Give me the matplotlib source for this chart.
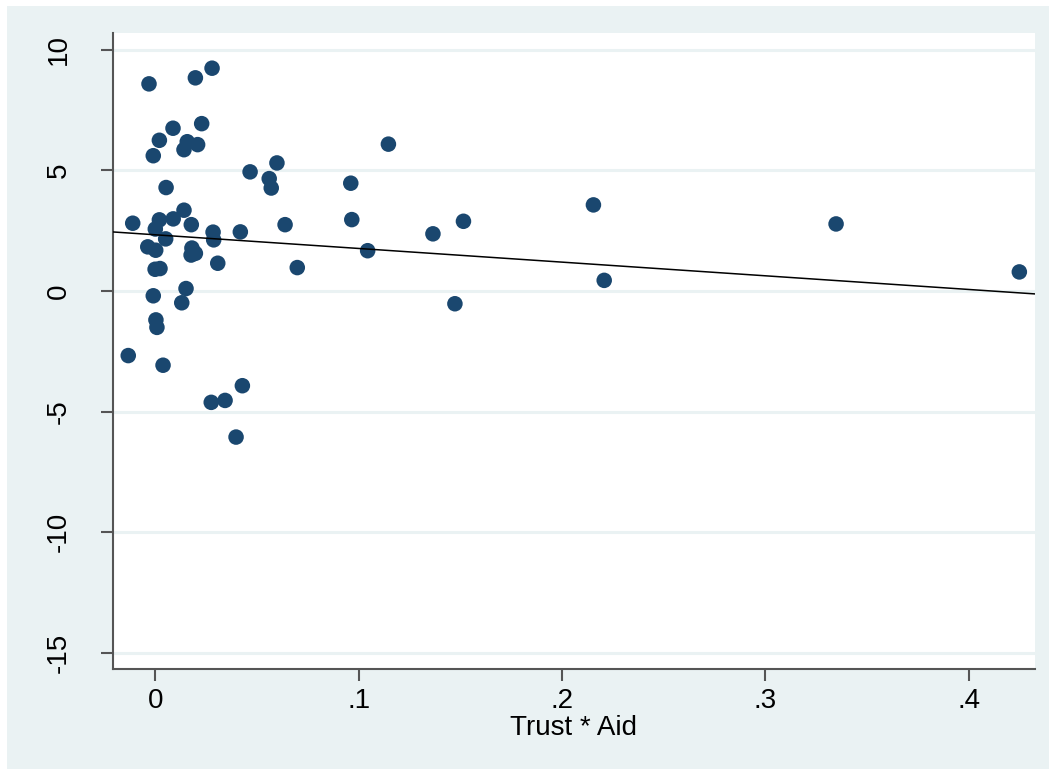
import numpy as np
import matplotlib.pyplot as plt
from matplotlib.patches import Rectangle

# data
trust_aid = [-0.0031, 0.0197, 0.0279, 0.0228, 0.0087, 0.0020, 0.0157, 0.0208, 0.0141, -0.0010,
             0.1146, 0.0598, 0.0466, 0.0560, 0.0570, 0.0053, 0.0961, 0.0141, -0.0111, 0.0020,
             0.0088, 0.0177, 0.0000, 0.0638, 0.0966, 0.0284, 0.0287, 0.0418, 0.0051, -0.0037,
             0.0002, 0.0180, 0.0176, 0.0197, 0.1044, 0.0307, -0.0001, 0.0023, 0.0698, 0.0151,
             -0.0010, 0.0130, 0.0003, 0.0008, -0.0133, 0.0038, 0.0428, 0.0275, 0.0343, 0.0397,
             0.1365, 0.1515, 0.1473, 0.2154, 0.2207, 0.3347, 0.4248]
growth = [8.59, 8.84, 9.24, 6.94, 6.75, 6.25, 6.19, 6.07, 5.86, 5.61,
          6.09, 5.31, 4.94, 4.66, 4.27, 4.29, 4.47, 3.35, 2.81, 2.95,
          2.99, 2.75, 2.57, 2.75, 2.96, 2.44, 2.12, 2.45, 2.16, 1.83,
          1.69, 1.78, 1.49, 1.56, 1.67, 1.15, 0.90, 0.93, 0.97, 0.10,
          -0.20, -0.49, -1.20, -1.51, -2.68, -3.08, -3.93, -4.62, -4.54, -6.06,
          2.37, 2.89, -0.53, 3.57, 0.44, 2.78, 0.79]
fit_intercept = 2.33
fit_slope = -5.67

xticks = [0, 0.1, 0.2, 0.3, 0.4]
xticklabels = ['0', '.1', '.2', '.3', '.4']
yticks = [-15, -10, -5, 0, 5, 10]

BG = '#eaf2f3'
NAVY = '#1a476f'
AXC = '#555555'

plt.rcParams['font.family'] = ['Liberation Sans', 'DejaVu Sans']

fig = plt.figure(figsize=(10.49, 7.69), dpi=100, facecolor='white')
fig.patches.append(Rectangle((7/1049, 0), 1 - 7/1049, 1 - 6/769,
                             transform=fig.transFigure, facecolor=BG,
                             edgecolor='none', zorder=-10))
ax = fig.add_axes([113/1049, 1 - 669/769, (1035-113)/1049, (669-33)/769])
ax.set_facecolor('white')

for y in yticks:
    ax.axhline(y, color=BG, lw=2.2, zorder=0)

ax.scatter(trust_aid, growth, s=125, color=NAVY, edgecolors='none', zorder=3)
ax.axline((0, fit_intercept), slope=fit_slope, color='black', lw=1.1, zorder=4)

ax.set_xlim(-0.0208, 0.4325)
ax.set_ylim(-15.68, 10.7)

ax.set_xticks(xticks)
ax.set_xticklabels(xticklabels)
ax.set_yticks(yticks)
ax.set_yticklabels([str(v) for v in yticks], rotation=90, va='center')

ax.tick_params(axis='both', labelsize=20, color=AXC, width=1.5, length=8.5)
ax.tick_params(axis='x', pad=5)
ax.tick_params(axis='y', pad=21)

for side in ['top', 'right']:
    ax.spines[side].set_visible(False)
for side in ['left', 'bottom']:
    ax.spines[side].set_color(AXC)
    ax.spines[side].set_linewidth(1.5)

ax.set_xlabel('Trust * Aid', fontsize=20, labelpad=1)

fig.savefig('out.png', dpi=100, facecolor=fig.get_facecolor())
